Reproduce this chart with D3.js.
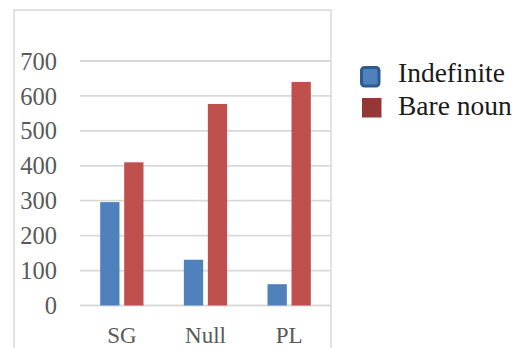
<!DOCTYPE html>
<html>
<head>
<meta charset="utf-8">
<script src="https://cdn.jsdelivr.net/npm/d3@7"></script>
<style>
  html, body { margin: 0; padding: 0; background: #fff; }
  svg { display: block; }
</style>
</head>
<body>
<svg id="chart" width="526" height="348"></svg>
<script>
const categories = ["SG", "Null", "PL"];
const seriesNames = ["Indefinite", "Bare noun"];
const indefinite = [296, 131, 61];
const bareNoun = [410, 577, 640];
const yTicks = [0, 100, 200, 300, 400, 500, 600, 700];

const seriesValues = [indefinite, bareNoun];
const colors = ["#4f81bd", "#c0504d"];

const svg = d3.select("#chart");
const font = "'Liberation Serif', serif";

// chart frame
svg.append("path")
  .attr("d", "M14,360 L14,10 L331,10 L331,360")
  .attr("fill", "none")
  .attr("stroke", "#d9d9d9")
  .attr("stroke-width", 1.5);

const plotLeft = 80, plotRight = 331;
const y = d3.scaleLinear().domain([0, 700]).range([305.5, 61]);
const x0 = d3.scaleBand().domain(categories).range([plotLeft, plotRight]).padding(0);
const x1 = d3.scaleBand().domain(seriesNames).range([0, x0.bandwidth()])
  .paddingInner(0.196).paddingOuter(0.841);

// gridlines
svg.append("g").selectAll("line").data(yTicks).join("line")
  .attr("x1", plotLeft).attr("x2", plotRight)
  .attr("y1", d => y(d)).attr("y2", d => y(d))
  .attr("stroke", "#d9d9d9").attr("stroke-width", 1.8);

// y axis labels
const yAxis = d3.axisLeft(y).tickValues(yTicks).tickSize(0).tickPadding(0);
const yg = svg.append("g").attr("transform", "translate(57,0)").call(yAxis);
yg.select(".domain").remove();
yg.selectAll("text")
  .attr("font-family", font).attr("font-size", 24.5).attr("fill", "#595959")
  .attr("dy", "0.33em");

// bars
const data = [];
categories.forEach((c, i) => {
  seriesNames.forEach((s, j) => data.push({c, s, v: seriesValues[j][i], j}));
});
svg.append("g").selectAll("rect").data(data).join("rect")
  .attr("x", d => x0(d.c) + x1(d.s))
  .attr("width", x1.bandwidth())
  .attr("y", d => y(d.v))
  .attr("height", d => y(0) - y(d.v))
  .attr("fill", d => colors[d.j]);

// x axis labels
const xAxis = d3.axisBottom(x0).tickSize(0).tickPadding(0);
const xg = svg.append("g").attr("transform", "translate(0,342.5)").call(xAxis);
xg.select(".domain").remove();
xg.selectAll("text")
  .attr("font-family", font).attr("font-size", 23).attr("fill", "#595959")
  .attr("dy", "0");

// legend
const legend = svg.append("g");
legend.append("rect").attr("x", 361.5).attr("y", 67.5).attr("width", 17.5).attr("height", 18.5)
  .attr("rx", 3).attr("fill", "#4f81bd").attr("stroke", "#2f5b8f").attr("stroke-width", 3);
legend.append("rect").attr("x", 362).attr("y", 98).attr("width", 19.5).attr("height", 19.5)
  .attr("fill", "#953735");
legend.selectAll("text").data(seriesNames).join("text")
  .attr("x", 398).attr("y", (d, i) => 81.7 + i * 33.3)
  .attr("font-family", font).attr("font-size", 27.5).attr("fill", "#1a1a1a")
  .text(d => d);
</script>
</body>
</html>
